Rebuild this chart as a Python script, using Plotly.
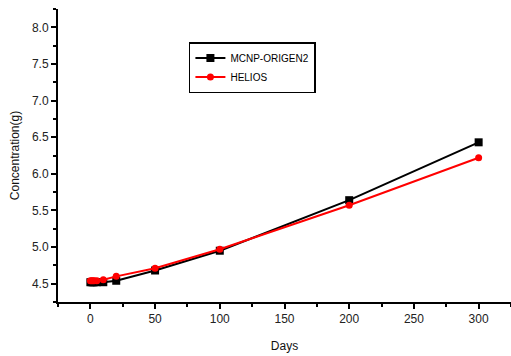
import plotly.graph_objects as go

days = [0, 1, 2, 3, 5, 10, 20, 50, 100, 200, 300]
mcnp_origen2 = [4.52, 4.52, 4.52, 4.52, 4.52, 4.52, 4.54, 4.68, 4.95, 5.64, 6.43]
helios = [4.54, 4.54, 4.54, 4.54, 4.54, 4.555, 4.60, 4.71, 4.97, 5.57, 6.22]

x_ticks = [0, 50, 100, 150, 200, 250, 300]
y_ticks = [4.5, 5.0, 5.5, 6.0, 6.5, 7.0, 7.5, 8.0]

fig = go.Figure()
fig.add_trace(go.Scatter(
    x=days, y=mcnp_origen2, name="MCNP-ORIGEN2", mode="lines+markers",
    line=dict(color="black", width=2),
    marker=dict(symbol="square", size=8, color="black"),
))
fig.add_trace(go.Scatter(
    x=days, y=helios, name="HELIOS", mode="lines+markers",
    line=dict(color="#ff0000", width=2),
    marker=dict(symbol="circle", size=7, color="#ff0000"),
))

axis_common = dict(
    showgrid=False, zeroline=False, showline=True, linecolor="black", linewidth=2,
    ticks="outside", ticklen=5, tickwidth=1.5, tickcolor="black",
    tickfont=dict(family="Liberation Sans, Arial", size=12, color="#222"),
    title_font=dict(family="Liberation Sans, Arial", size=12, color="#111"),
)

fig.update_xaxes(
    range=[-25, 325], tickvals=x_ticks, ticktext=[str(v) for v in x_ticks],
    title_text="Days", title_standoff=16,
    minor=dict(dtick=25, tick0=0, ticks="outside", ticklen=3, tickwidth=1.5, tickcolor="black"),
    **axis_common,
)
fig.update_yaxes(
    range=[4.25, 8.25], tickvals=y_ticks, ticktext=[f"{v:.1f}" for v in y_ticks],
    title_text="Concentration(g)", title_standoff=10,
    minor=dict(dtick=0.25, tick0=4.25, ticks="outside", ticklen=3, tickwidth=1.5, tickcolor="black"),
    **axis_common,
)

fig.update_layout(
    width=511, height=356,
    margin=dict(l=58, r=0, t=9, b=54),
    plot_bgcolor="white", paper_bgcolor="white",
    showlegend=True,
    legend=dict(
        x=0.289, y=0.887, xanchor="left", yanchor="top",
        bordercolor="black", borderwidth=1.5, bgcolor="white",
        font=dict(family="Liberation Sans, Arial", size=10, color="black"),
        itemwidth=30, tracegroupgap=0,
    ),
)

fig.write_html("out.html")
